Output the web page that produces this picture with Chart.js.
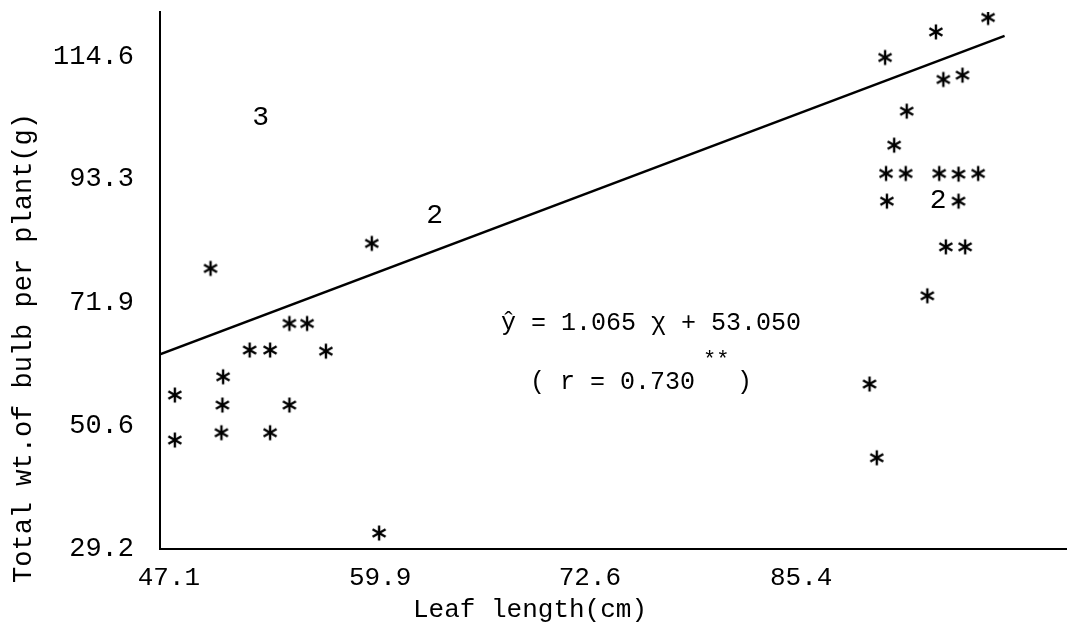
<!DOCTYPE html>
<html>
<head>
<meta charset="utf-8">
<script src="https://cdn.jsdelivr.net/npm/chart.js@4.4.0/dist/chart.umd.min.js"></script>
<style>
  body { margin: 0; background: #fff; }
  #wrap { width: 1075px; height: 633px; position: relative; }
</style>
</head>
<body>
<div id="wrap"><canvas id="scatter"></canvas></div>
<script>
// leaf length (cm) vs total bulb weight (g), one asterisk per plant
const leafLength = [49.62, 54.40, 55.47, 51.99, 53.23, 56.61, 50.38, 47.46, 50.34, 54.40,
                    47.46, 50.28, 53.23, 59.39, 59.83,
                    90.48, 93.56, 96.72, 94.01, 95.17, 91.79, 91.03, 90.54, 91.73, 93.76,
                    94.93, 96.12, 90.59, 94.93, 94.16, 95.33, 93.04, 89.54, 89.98];
const bulbWeight = [77.85, 68.3, 68.3, 63.7, 63.7, 63.5, 59.06, 55.89, 54.16, 54.16,
                    48.09, 49.36, 49.36, 82.18, 31.97,
                    114.42, 118.85, 121.35, 110.6, 111.35, 105.11, 99.22, 94.31, 94.31, 94.31,
                    94.19, 94.31, 89.51, 89.51, 81.59, 81.59, 73.1, 57.8, 45.02];

// digits printed where several plants overlap
const countText = ['3', '2', '2'];
const countX = [52.65, 63.19, 93.70];
const countY = [104.0, 86.96, 89.69];

// fitted line end points
const fitX = [46.56, 97.72];
const fitY = [62.94, 118.16];

const xTicks = [47.1, 59.9, 72.6, 85.4];
const yTicks = [29.2, 50.6, 71.9, 93.3, 114.6];

const FONT = 'Liberation Mono';

// six-spoke asterisk marker
function asterisk() {
    const c = document.createElement('canvas');
    c.width = 18; c.height = 18;
    const g = c.getContext('2d');
    g.strokeStyle = '#000';
    g.lineWidth = 2.4;
    const r = 7.5;
    [90, 30, 150].forEach(a => {
        const t = a * Math.PI / 180;
        g.beginPath();
        g.moveTo(9 - r * Math.cos(t), 9 - r * Math.sin(t));
        g.lineTo(9 + r * Math.cos(t), 9 + r * Math.sin(t));
        g.stroke();
    });
    return c;
}

const notes = {
    id: 'notes',
    afterDatasetsDraw(chart) {
        const ctx = chart.ctx;
        const xs = chart.scales.x, ys = chart.scales.y;
        ctx.save();
        ctx.fillStyle = '#000';
        ctx.textAlign = 'center';
        ctx.textBaseline = 'middle';
        ctx.font = '28px ' + FONT;
        countText.forEach((t, i) => {
            ctx.fillText(t, xs.getPixelForValue(countX[i]), ys.getPixelForValue(countY[i]));
        });

        // equation
        ctx.font = '25px ' + FONT;
        ctx.fillText('\u0177 = 1.065 \u03c7 + 53.050', 651, 323);
        ctx.textAlign = 'left';
        ctx.fillText('( r = 0.730', 530, 382);
        ctx.font = '22px ' + FONT;
        ctx.fillText('**', 703, 360);
        ctx.font = '25px ' + FONT;
        ctx.fillText(')', 737, 382);

        // axis titles
        ctx.textAlign = 'center';
        ctx.font = '26px ' + FONT;
        ctx.fillText('Leaf length(cm)', 530, 610);
        ctx.translate(24, 348);
        ctx.rotate(-Math.PI / 2);
        ctx.font = '27px ' + FONT;
        ctx.fillText('Total wt.of bulb per plant(g)', 0, 0);
        ctx.restore();
    }
};

const ctx = document.getElementById('scatter').getContext('2d');
new Chart(ctx, {
    type: 'scatter',
    data: {
        datasets: [{
            label: 'plants',
            data: leafLength.map((x, i) => ({ x: x, y: bulbWeight[i] })),
            pointStyle: asterisk(),
            pointRadius: 8
        }, {
            type: 'line',
            label: 'fit',
            data: fitX.map((x, i) => ({ x: x, y: fitY[i] })),
            borderColor: '#000',
            borderWidth: 2.5,
            pointRadius: 0,
            fill: false
        }]
    },
    options: {
        responsive: true,
        maintainAspectRatio: false,
        animation: false,
        devicePixelRatio: 1,
        layout: { padding: { top: 12, right: 5, left: 0, bottom: 0 } },
        plugins: { legend: { display: false }, tooltip: { enabled: false } },
        scales: {
            x: {
                type: 'linear',
                min: 46.56,
                max: 101.44,
                afterBuildTicks: s => { s.ticks = xTicks.map(v => ({ value: v })); },
                afterFit: s => { s.height = 84; s.paddingLeft = 0; s.paddingRight = 0; },
                grid: { display: false },
                border: { display: true, color: '#000', width: 2 },
                ticks: {
                    color: '#000',
                    font: { family: FONT, size: 26 },
                    padding: 6,
                    maxRotation: 0,
                    autoSkip: false,
                    callback: v => v.toFixed(1)
                }
            },
            y: {
                min: 29.2,
                max: 122.3,
                afterBuildTicks: s => { s.ticks = yTicks.map(v => ({ value: v })); },
                afterFit: s => { s.width = 160; s.paddingTop = 0; s.paddingBottom = 0; },
                grid: { display: false },
                border: { display: true, color: '#000', width: 2 },
                ticks: {
                    color: '#000',
                    font: { family: FONT, size: 27 },
                    padding: 18,
                    autoSkip: false,
                    callback: v => v.toFixed(1)
                }
            }
        }
    },
    plugins: [notes]
});
</script>
</body>
</html>
